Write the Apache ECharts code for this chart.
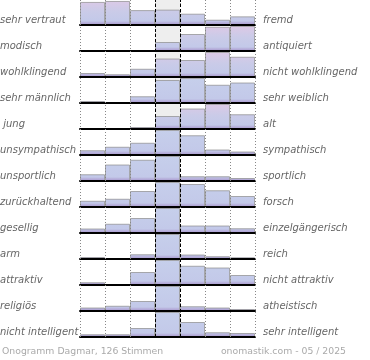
<!DOCTYPE html>
<html>
<head>
<meta charset="utf-8">
<script src="https://cdn.jsdelivr.net/npm/echarts@6/dist/echarts.min.js"></script>
<style>html,body{margin:0;padding:0;background:#fff}#c{width:370px;height:360px}</style>
</head>
<body>
<div id="c"></div>
<script>
const categories = ['1','2','3','4','5','6','7'];
const leftLabels = ['sehr vertraut','modisch','wohlklingend','sehr männlich',' jung','unsympathisch','unsportlich','zurückhaltend','gesellig','arm','attraktiv','religiös','nicht intelligent'];
const rightLabels = ['fremd','antiquiert','nicht wohlklingend','sehr weiblich','alt','sympathisch','sportlich','forsch','einzelgängerisch','reich','nicht attraktiv','atheistisch','sehr intelligent'];
// relative bar heights per row (row maximum = 100)
const row01 = [96, 100, 62, 64, 47, 22, 36];
const row02 = [4, 4, 4, 36, 68, 97, 100];
const row03 = [16, 11, 33, 74, 68, 100, 81];
const row04 = [8, 0, 27, 92, 100, 73, 82];
const row05 = [0, 0, 8, 52, 82, 100, 59];
const row06 = [19, 33, 49, 100, 79, 22, 14];
const row07 = [27, 66, 85, 100, 19, 19, 12];
const row08 = [25, 33, 64, 100, 92, 67, 44];
const row09 = [18, 37, 60, 100, 30, 30, 19];
const row10 = [8, 2, 19, 100, 18, 11, 7];
const row11 = [11, 0, 52, 100, 77, 70, 40];
const row12 = [14, 21, 40, 100, 19, 14, 8];
const row13 = [11, 11, 36, 100, 60, 19, 16];
const rows = [row01,row02,row03,row04,row05,row06,row07,row08,row09,row10,row11,row12,row13];
const footerLeft = 'Onogramm Dagmar, 126 Stimmen';
const footerRight = 'onomastik.com - 05 / 2025';

const pinkRows = [0,1,2,4];
const L = 80, W = 175, PITCH = 26, H = 26;
const grids = [], xAxes = [], yAxes = [], series = [], graphics = [];

rows.forEach((vals, i) => {
  const top = PITCH * i - 1;
  const base = top + H;
  grids.push({left: L, width: W, top: top, height: H});
  xAxes.push({type: 'category', gridIndex: i, data: categories, boundaryGap: true,
    axisTick: {show: false}, axisLabel: {show: false}, splitLine: {show: false},
    axisLine: {show: true, lineStyle: {color: '#000', width: 2}}, z: 4});
  yAxes.push({type: 'value', gridIndex: i, min: 0, max: 104, show: false});
  const pink = pinkRows.indexOf(i) >= 0;
  const stops = pink ? [
    {offset: 0, color: '#ddc9e6'}, {offset: 0.45, color: '#cacbe8'},
    {offset: 0.84, color: '#c3c9e9'}, {offset: 0.92, color: '#b5acd9'}, {offset: 1, color: '#aa9dd1'}
  ] : [
    {offset: 0, color: '#c6cfeb'}, {offset: 0.84, color: '#c3c9e9'},
    {offset: 0.92, color: '#b5acd9'}, {offset: 1, color: '#aa9dd1'}
  ];
  series.push({type: 'bar', xAxisIndex: i, yAxisIndex: i, data: vals,
    barWidth: '100%', barCategoryGap: '0%', silent: true, z: 2,
    itemStyle: {
      color: {type: 'linear', x: 0, y: top + 1, x2: 0, y2: base, global: true, colorStops: stops},
      borderColor: 'rgba(140,140,140,0.7)', borderWidth: 1
    }});
  graphics.push({type: 'text', left: 0, top: base - 10, style: {text: leftLabels[i], fill: '#666', font: 'italic 10px "DejaVu Sans"'}});
  graphics.push({type: 'text', left: 263, top: base - 10, style: {text: rightLabels[i], fill: '#666', font: 'italic 10px "DejaVu Sans"'}});
});

// overlay grid for column guides
const ov = rows.length;
grids.push({left: L, width: W, top: 0, height: 337});
xAxes.push({type: 'value', gridIndex: ov, min: 0, max: 7, interval: 1, axisLine: {show: false}, axisTick: {show: false}, axisLabel: {show: false},
  splitLine: {show: true, lineStyle: {color: '#888', width: 1, type: [1, 2]}}, z: 5});
yAxes.push({type: 'value', gridIndex: ov, min: 0, max: 1, show: false});
series.push({type: 'scatter', xAxisIndex: ov, yAxisIndex: ov, data: [[0, 0]], symbolSize: 0, silent: true, z: 0,
  markArea: {silent: true, itemStyle: {color: '#eeeeee'}, data: [[{xAxis: 3}, {xAxis: 4}]]}});
series.push({type: 'scatter', xAxisIndex: ov, yAxisIndex: ov, data: [[0, 0]], symbolSize: 0, silent: true, z: 6,
  markLine: {silent: true, symbol: 'none', label: {show: false}, lineStyle: {color: '#000', width: 1, type: [3, 2]}, data: [{xAxis: 3}, {xAxis: 4}]}});

graphics.push({type: 'text', left: 2, top: 347, style: {text: footerLeft, fill: '#aaa', font: '9.3px "DejaVu Sans"'}});
graphics.push({type: 'text', right: 24, top: 347, style: {text: footerRight, fill: '#aaa', font: '9.3px "DejaVu Sans"'}});

const chart = echarts.init(document.getElementById('c'), null, {renderer: 'canvas'});
chart.setOption({animation: false, grid: grids, xAxis: xAxes, yAxis: yAxes, series: series, graphic: graphics});
</script>
</body>
</html>
